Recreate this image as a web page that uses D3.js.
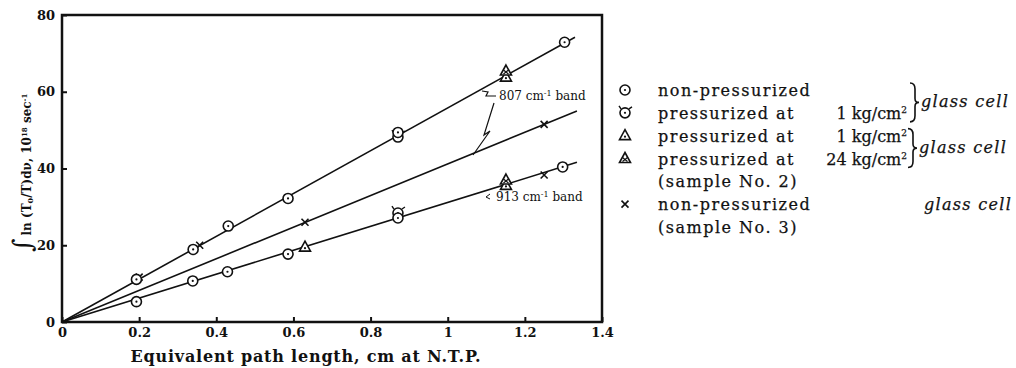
<!DOCTYPE html>
<html lang="en">
<head>
    <meta charset="UTF-8">
    <title>Integrated absorption vs path length</title>
    <script src="https://cdn.jsdelivr.net/npm/d3@7"></script>
    <style>
        body { margin: 0; background: #fff; }
        text { font-family: "DejaVu Serif", "Liberation Serif", serif; fill: #111; }
        .tick text { font-weight: bold; font-size: 13px; }
        .legend text { stroke: #111; stroke-width: 0.25px; }
    </style>
</head>
<body>

<div id="container"></div>

<script>
    // fitted lines: end point of each straight line (all start at origin)
    var lineEnds = [
        { name: "807 band (sample 1/2)", x: 1.33, y: 74.2 },
        { name: "807 band (sample 3)", x: 1.335, y: 55 },
        { name: "913 band", x: 1.335, y: 41.6 }
    ];

    // points: non-pressurized, glass cell
    var circleX = [0.193, 0.34, 0.431, 0.586, 0.871, 1.303, 0.193, 0.339, 0.429, 0.586, 0.871, 1.298];
    var circleY = [11.1, 18.9, 25.0, 32.2, 49.4, 72.9, 5.3, 10.7, 13.1, 17.7, 27.1, 40.4];
    // points: pressurized at 1 kg/cm2, glass cell
    var pcircleX = [0.871, 0.871];
    var pcircleY = [48.2, 28.4];
    // points: sample No. 2 (triangles)
    var triX = [1.151, 0.63, 1.151];
    var triY = [63.8, 19.5, 35.6];
    var tri24X = [1.151, 1.151];
    var tri24Y = [65.4, 37.0];
    // points: sample No. 3 (crosses)
    var crossX = [0.63, 1.25, 1.25, 0.357, 0.2];
    var crossY = [26.0, 51.5, 38.3, 20.0, 11.7];

    var xTicks = [0, 0.2, 0.4, 0.6, 0.8, 1, 1.2, 1.4];
    var yTicks = [0, 20, 40, 60, 80];

    var svg = d3.select("#container").append("svg")
        .attr("width", 1016)
        .attr("height", 368);

    var xScale = d3.scaleLinear().domain([0, 1.4]).range([62, 602]);
    var yScale = d3.scaleLinear().domain([0, 80]).range([322, 15]);

    // axes with inward ticks
    svg.append("g")
        .attr("transform", "translate(0,322)")
        .call(d3.axisBottom(xScale).tickValues(xTicks).tickSizeInner(-5).tickSizeOuter(0).tickPadding(6)
            .tickFormat(d => d === 0 ? "0" : d === 1 ? "1" : d3.format(".1f")(d)))
        .call(g => g.select(".domain").remove());

    svg.append("g")
        .attr("transform", "translate(62,0)")
        .call(d3.axisLeft(yScale).tickValues(yTicks).tickSizeInner(-5).tickSizeOuter(0).tickPadding(7))
        .call(g => g.select(".domain").remove());

    svg.selectAll(".tick line").attr("stroke", "#111").attr("stroke-width", 2);

    // frame
    svg.append("rect")
        .attr("x", xScale(0)).attr("y", yScale(80))
        .attr("width", xScale(1.4) - xScale(0))
        .attr("height", yScale(0) - yScale(80))
        .attr("fill", "none").attr("stroke", "#111").attr("stroke-width", 2.5);

    // axis titles
    svg.append("text")
        .attr("x", 306).attr("y", 362)
        .attr("text-anchor", "middle")
        .style("font-size", "16px").style("font-weight", "bold").style("letter-spacing", "0.8px")
        .text("Equivalent path length, cm at N.T.P.");

    var yl = svg.append("text")
        .attr("transform", "translate(31,252) rotate(-90)")
        .style("font-size", "12px").style("font-weight", "bold");
    yl.append("tspan").style("font-size", "26px").style("font-weight", "normal").text("∫");
    yl.append("tspan").attr("dx", 3).text("ln (T");
    yl.append("tspan").attr("dy", 2).style("font-size", "8px").text("0");
    yl.append("tspan").attr("dy", -2).text("/T)dν,  10");
    yl.append("tspan").attr("dy", -4).style("font-size", "7px").text("18");
    yl.append("tspan").attr("dy", 4).text(" sec");
    yl.append("tspan").attr("dy", -4).style("font-size", "7px").text("-1");

    // fitted lines
    svg.selectAll(".fit")
        .data(lineEnds)
        .enter().append("line")
        .attr("class", "fit")
        .attr("x1", xScale(0)).attr("y1", yScale(0))
        .attr("x2", d => xScale(d.x)).attr("y2", d => yScale(d.y))
        .attr("stroke", "#111").attr("stroke-width", 1.6);

    // marker drawing
    function drawMarker(g, type) {
        if (type === "circle" || type === "pcircle") {
            g.append("circle").attr("r", 5).attr("fill", "#fff").attr("stroke", "#111").attr("stroke-width", 1.6);
            g.append("circle").attr("r", 1.1).attr("fill", "#111");
            if (type === "pcircle") {
                g.append("path").attr("d", "M-4,-4L-6,-7M4,-4L7,-6").attr("stroke", "#111").attr("stroke-width", 1.4);
            }
        } else if (type === "tri" || type === "tri24") {
            g.append("path").attr("d", "M0,-6L5.5,4L-5.5,4Z").attr("fill", "#fff").attr("stroke", "#111").attr("stroke-width", 1.6);
            if (type === "tri") g.append("circle").attr("cy", 1).attr("r", 1.1).attr("fill", "#111");
            else g.append("path").attr("d", "M-2.5,-1L2.5,3M2.5,-1L-2.5,3").attr("stroke", "#111").attr("stroke-width", 1.2);
        } else if (type === "cross") {
            g.append("path").attr("d", "M-3.5,-3.5L3.5,3.5M3.5,-3.5L-3.5,3.5").attr("stroke", "#111").attr("stroke-width", 1.6);
        }
    }

    function plotPoints(xs, ys, type) {
        xs.forEach(function (xv, i) {
            var g = svg.append("g").attr("transform", "translate(" + xScale(xv) + "," + yScale(ys[i]) + ")");
            drawMarker(g, type);
        });
    }

    plotPoints(crossX, crossY, "cross");
    plotPoints(triX, triY, "tri");
    plotPoints(tri24X, tri24Y, "tri24");
    plotPoints(pcircleX, pcircleY, "pcircle");
    plotPoints(circleX, circleY, "circle");

    // band annotations
    var a1 = svg.append("text").attr("x", 499).attr("y", 100).style("font-size", "12px");
    a1.append("tspan").text("807 cm");
    a1.append("tspan").attr("dy", -4).style("font-size", "8px").text("-1");
    a1.append("tspan").attr("dy", 4).text("   band");
    svg.append("path").attr("d", "M482,91L488,92L486,96L496,96")
        .attr("fill", "none").attr("stroke", "#111").attr("stroke-width", 1.2);
    svg.append("path").attr("d", "M494,103L484,135L490,131L473,155")
        .attr("fill", "none").attr("stroke", "#111").attr("stroke-width", 1.2);

    var a2 = svg.append("text").attr("x", 496).attr("y", 201).style("font-size", "12px");
    a2.append("tspan").text("913 cm");
    a2.append("tspan").attr("dy", -4).style("font-size", "8px").text("-1");
    a2.append("tspan").attr("dy", 4).text("   band");
    svg.append("path").attr("d", "M490,194L486,197L490,199")
        .attr("fill", "none").attr("stroke", "#111").attr("stroke-width", 1);

    // legend
    var legendTypes = ["circle", "pcircle", "tri", "tri24", null, "cross", null];
    var legendText = ["non-pressurized", "pressurized at", "pressurized at", "pressurized at",
        "(sample No. 2)", "non-pressurized", "(sample No. 3)"];
    var legendPressure = [null, "1", "1", "24", null, null, null];
    var rowY = d3.scaleLinear().domain([0, 6]).range([91, 228]);

    var legend = svg.append("g").attr("class", "legend");
    legendText.forEach(function (t, i) {
        if (legendTypes[i]) {
            var g = legend.append("g").attr("transform", "translate(625," + (rowY(i) - 1) + ")");
            drawMarker(g, legendTypes[i]);
        }
        legend.append("text")
            .attr("x", 658).attr("y", rowY(i) + 5)
            .style("font-size", "16px").style("letter-spacing", "1.5px")
            .text(t);
        if (legendPressure[i]) {
            var pt = legend.append("text")
                .attr("x", 907).attr("y", rowY(i) + 5)
                .attr("text-anchor", "end")
                .style("font-size", "16px");
            pt.append("tspan").text(legendPressure[i] + " kg/cm");
            pt.append("tspan").attr("dy", -6).style("font-size", "9px").text("2");
        }
    });

    // braces and cell labels
    function brace(x, y0, y1) {
        var m = (y0 + y1) / 2;
        return "M" + x + "," + y0 + "Q" + (x + 5) + "," + y0 + " " + (x + 5) + "," + (y0 + 6) +
            "L" + (x + 5) + "," + (m - 4) + "Q" + (x + 5) + "," + m + " " + (x + 9) + "," + m +
            "Q" + (x + 5) + "," + m + " " + (x + 5) + "," + (m + 4) +
            "L" + (x + 5) + "," + (y1 - 6) + "Q" + (x + 5) + "," + y1 + " " + x + "," + y1;
    }
    legend.append("path").attr("d", brace(910, rowY(0) - 8, rowY(1) + 8))
        .attr("fill", "none").attr("stroke", "#111").attr("stroke-width", 1.6);
    legend.append("path").attr("d", brace(908, rowY(2) - 8, rowY(3) + 8))
        .attr("fill", "none").attr("stroke", "#111").attr("stroke-width", 1.6);

    var cellY = [(rowY(0) + rowY(1)) / 2, (rowY(2) + rowY(3)) / 2, rowY(5)];
    var cellX = [921, 919, 924];
    cellY.forEach(function (cy, i) {
        legend.append("text")
            .attr("x", cellX[i]).attr("y", cy + 5)
            .style("font-size", "16px").style("font-style", "italic").style("letter-spacing", "1.3px")
            .text("glass cell");
    });
</script>

</body>
</html>
